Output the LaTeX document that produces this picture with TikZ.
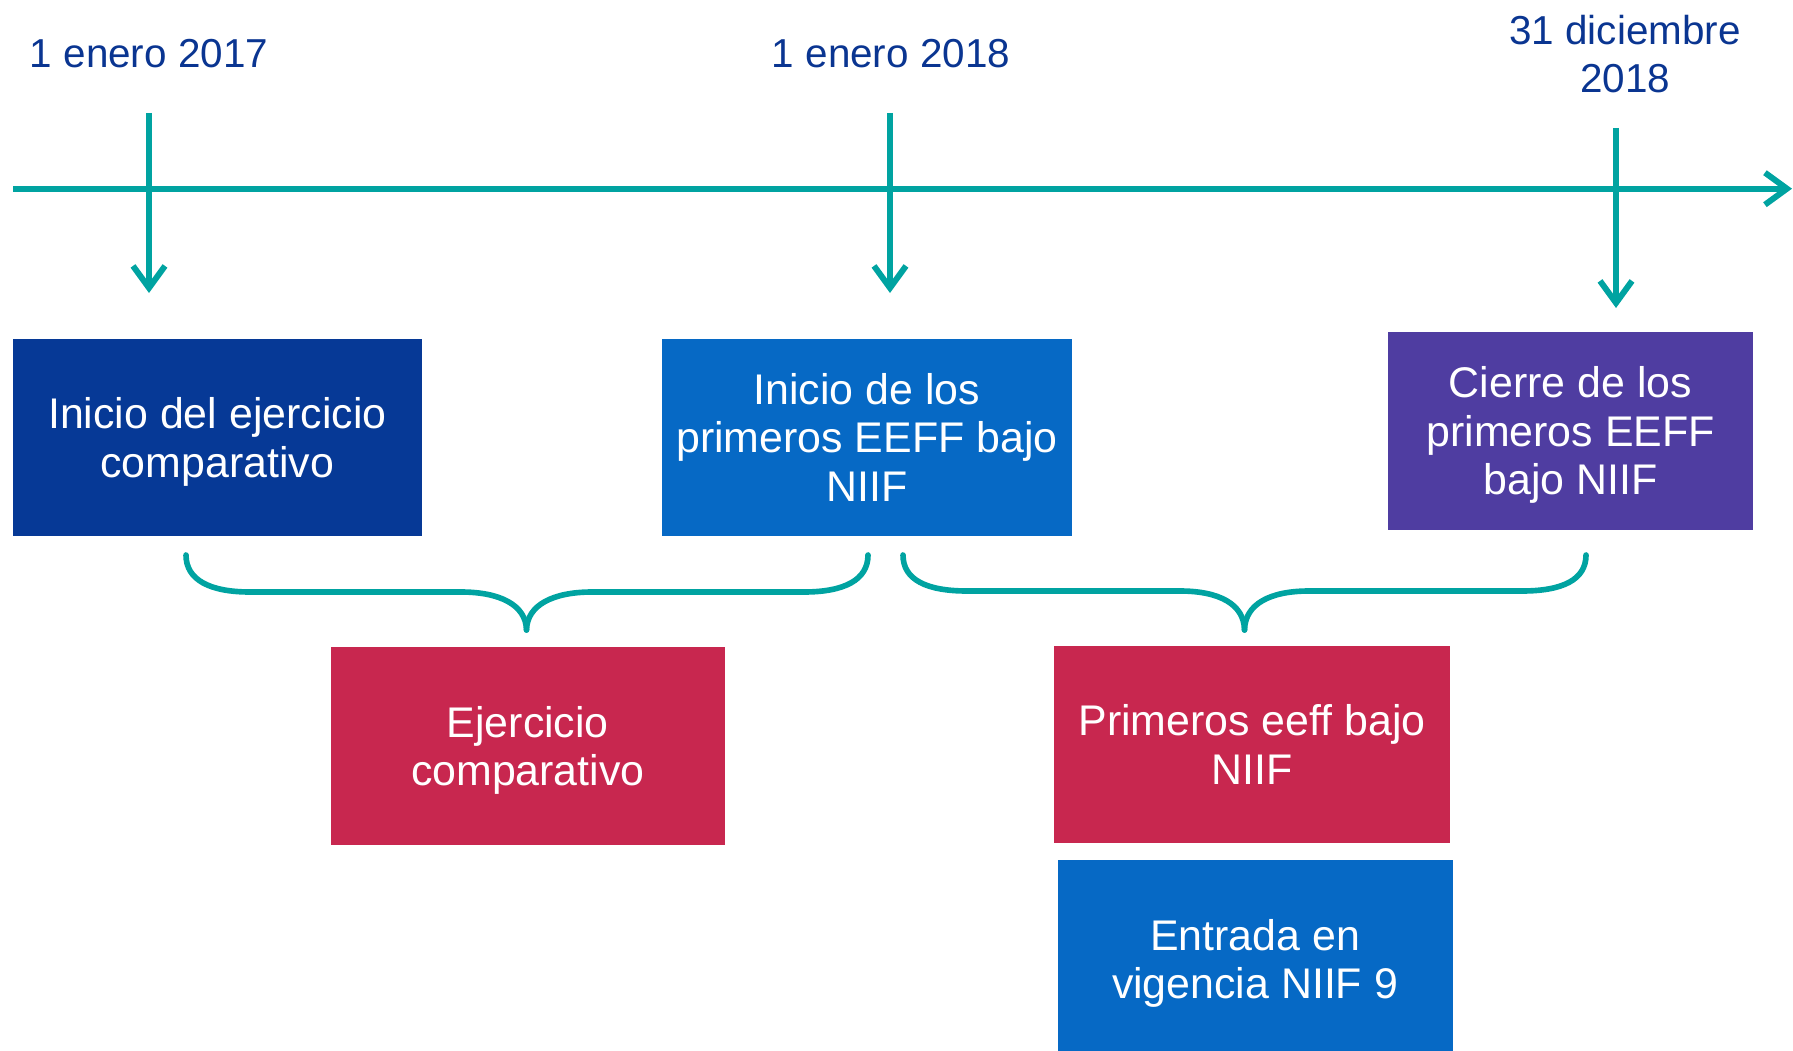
\documentclass[tikz,border=0pt]{standalone}
\usepackage{fontspec}
\setmainfont{Liberation Sans}
\usetikzlibrary{arrows.meta,positioning}
\definecolor{kteal}{HTML}{00A3A1}
\definecolor{kdate}{HTML}{0A3591}
\definecolor{kdark}{HTML}{063996}
\definecolor{kmid}{HTML}{0669C5}
\definecolor{kpurp}{HTML}{4F3DA1}
\definecolor{kred}{HTML}{C8274F}

\begin{document}
\begin{tikzpicture}[
  box/.style={fill=#1,text=white,align=center,inner sep=2pt,text depth=0pt,
              font=\fontsize{12.2}{13.8}\selectfont},
  date/.style={text=kdate,align=center,font=\fontsize{11.5}{13.8}\selectfont},
  tick/.style={kteal,line width=1.7pt,-{Straight Barb[length=2.2mm,width=3.2mm]}},
  axis/.style={kteal,line width=1.7pt,-{Straight Barb[length=2.2mm,width=3.2mm]}},
  brace/.style={kteal,line width=1.6pt,line cap=round}]

\clip (0,0) rectangle (17.93,-10.51);

% ---------------- timeline and the three dates -----------------------------
\coordinate (ax0) at (0.13,-1.887);
\coordinate (ax1) at (17.92,-1.887);
\draw[axis] (ax0) -- (ax1);

\node[date] (d17) at (1.49,-0.54) {1 enero 2017};
\node[date] (d18) at (8.91,-0.54) {1 enero 2018};
\node[date] (d31) at (16.25,-0.54) {31 diciembre\\2018};

\coordinate (t1) at (1.49,-1.13);   \coordinate (t1e) at (1.49,-2.93);
\coordinate (t2) at (8.90,-1.13);   \coordinate (t2e) at (8.90,-2.93);
\coordinate (t3) at (16.16,-1.28);  \coordinate (t3e) at (16.16,-3.08);
\draw[tick] (t1) -- (t1e);
\draw[tick] (t2) -- (t2e);
\draw[tick] (t3) -- (t3e);

% ---------------- upper row --------------------------------------------------
\node[box=kdark,minimum width=4.094cm,minimum height=1.978cm] (ini) at (2.173,-4.374)
  {Inicio del ejercicio\\comparativo};
\node[box=kmid,minimum width=4.095cm,minimum height=1.978cm] (pri) at (8.668,-4.374)
  {Inicio de los\\primeros EEFF bajo\\NIIF};
\node[box=kpurp,minimum width=3.65cm,minimum height=1.98cm] (cie) at (15.705,-4.305)
  {Cierre de los\\primeros EEFF\\bajo NIIF};

% ---------------- braces -----------------------------------------------------
\draw[brace] (1.86,-5.55) .. controls (1.86,-5.80) and (2.10,-5.92) .. (2.50,-5.92)
  -- (4.61,-5.92) .. controls (5.00,-5.92) and (5.26,-6.05) .. (5.265,-6.30);
\draw[brace] (8.68,-5.55) .. controls (8.68,-5.80) and (8.44,-5.92) .. (8.04,-5.92)
  -- (5.92,-5.92) .. controls (5.53,-5.92) and (5.27,-6.05) .. (5.265,-6.30);

\draw[brace] (9.03,-5.55) .. controls (9.03,-5.80) and (9.27,-5.91) .. (9.67,-5.91)
  -- (11.80,-5.91) .. controls (12.19,-5.91) and (12.44,-6.04) .. (12.445,-6.30);
\draw[brace] (15.86,-5.55) .. controls (15.86,-5.80) and (15.62,-5.91) .. (15.22,-5.91)
  -- (13.09,-5.91) .. controls (12.70,-5.91) and (12.45,-6.04) .. (12.445,-6.30);

% ---------------- lower row --------------------------------------------------
\node[box=kred,minimum width=3.945cm,minimum height=1.98cm] (eje) at (5.278,-7.46)
  {Ejercicio\\comparativo};
\node[box=kred,minimum width=3.96cm,minimum height=1.97cm] (pee) at (12.52,-7.445)
  {Primeros eeff bajo\\NIIF};
\node[box=kmid,minimum width=3.95cm,minimum height=1.98cm] (ent) at (12.55,-9.59)
  {Entrada en\\vigencia NIIF 9};

\end{tikzpicture}
\end{document}
